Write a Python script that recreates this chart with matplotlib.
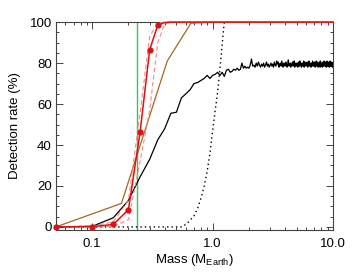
import numpy as np
import matplotlib
matplotlib.use('Agg')
import matplotlib.pyplot as plt
from matplotlib.ticker import FixedLocator, FixedFormatter, MultipleLocator

plt.rcParams['font.family'] = ['Liberation Sans', 'DejaVu Sans']
plt.rcParams['mathtext.default'] = 'regular'

# red model (solid with dots) and its two dashed bounds
red_mass = [0.05, 0.10, 0.15, 0.20, 0.25, 0.30, 0.35, 0.40, 0.45, 0.50, 10.0]
red_rate = [0.0, 0.2, 1.2, 8.5, 46.5, 86.5, 98.5, 99.8, 100, 100, 100]
red_upper = [0.0, 0.5, 2.5, 13, 56, 93, 99.6, 100, 100, 100, 100]
red_lower = [0.0, 0.0, 0.3, 3.5, 32, 57, 90, 99, 100, 100, 100]

# brown curve
brown_mass = [0.05, 0.175, 0.42, 0.66, 1.0, 10.0]
brown_rate = [0.0, 11.5, 81, 99.5, 100, 100]

# black dotted curve
dot_mass = [0.05, 0.56, 0.62, 0.70, 0.75, 0.80, 0.85, 0.90, 0.95, 0.99, 1.045, 1.10, 1.17, 1.225, 1.25, 10.0]
dot_rate = [0.0, 0.0, 2, 5.4, 9, 14, 20, 27, 36, 45, 56, 66, 82, 95, 100, 100]

# black solid curve, sampled every 0.05 from 0.05 to 10.0
black_mass = np.round(np.arange(1, 201) * 0.05, 2)
black_rate = [
    0.0, 0.3, 4.5, 13, 24.5, 33, 42.5, 48, 55.5, 56,
    63, 65, 67, 70, 70.5, 71.5, 72.5, 74, 72.5, 74,
    74.5, 75.5, 74, 75.5, 73.5, 76.5, 77, 75.5, 76, 77,
    76.5, 77.5, 76.5, 77, 80, 77.5, 78.5, 77.5, 78, 77.5,
    79, 82, 78.5, 79, 78, 80, 78.5, 80.5, 79, 78,
    79.5, 78.5, 80, 78, 79, 80.5, 78.5, 79.5, 78, 79,
    80, 78.5, 79.5, 78, 80.5, 79, 78.5, 81, 79.5, 80.5,
    78, 79.5, 80, 78.5, 81, 79, 78, 80, 79.5, 78.5,
    80.5, 79, 78, 79.5, 81.5, 78.5, 79, 80, 78, 79.5,
    79, 80.5, 78.5, 79, 81, 78, 80, 79.5, 78.5, 80,
    79.5, 78, 80.5, 79, 78.5, 81, 79, 80, 78, 79.5,
    80, 78.5, 79.5, 81, 78, 79, 80.5, 79, 78.5, 80,
    79, 80.5, 78, 79.5, 80, 81, 78.5, 79, 80, 79.5,
    78, 80, 79.5, 78.5, 81, 79, 80, 78.5, 79.5, 80.5,
    79, 78, 80, 79.5, 81, 78.5, 79, 80.5, 79, 78,
    80, 79.5, 78.5, 80.5, 79, 78, 81, 79.5, 80, 78.5,
    79.5, 80, 78, 79, 80.5, 79.5, 78.5, 81, 79, 80,
    78.5, 79.5, 80.5, 79, 78, 80, 79.5, 81, 78.5, 79,
    80, 78.5, 79.5, 80.5, 79, 78, 80, 79.5, 81, 78.5,
    79.5, 80, 78.5, 79, 80.5, 79.5, 78, 80, 79, 79.5,
]

green_mass = 0.237

xticks = [0.1, 1.0, 10.0]
xtick_labels = ['0.1', '1.0', '10.0']
yticks = [0, 20, 40, 60, 80, 100]

fig = plt.figure(figsize=(3.54, 2.75), dpi=100)
ax = fig.add_axes([0.158, 0.1636, 0.783, 0.756])

ax.axvline(green_mass, color='#2ecc55', lw=1.0)
ax.plot(black_mass, black_rate, color='black', lw=0.9)
ax.plot(dot_mass, dot_rate, color='black', lw=1.0, linestyle=(0, (1, 2.2)))
ax.plot(brown_mass, brown_rate, color='#a2681f', lw=0.9, zorder=3, clip_on=False)
ax.plot(red_mass, red_upper, color='#f08a8a', lw=0.8, linestyle=(0, (4, 2.5)),
        zorder=3, clip_on=False)
ax.plot(red_mass, red_lower, color='#f08a8a', lw=0.8, linestyle=(0, (4, 2.5)),
        zorder=3, clip_on=False)
ax.plot(red_mass, red_rate, color='#dd1111', lw=1.1, marker='o', ms=3.5,
        markevery=list(range(7)), zorder=4, clip_on=False)

ax.set_xscale('log')
ax.set_xlim(0.05, 10.0)
ax.set_ylim(-1.5, 100)

ax.xaxis.set_major_locator(FixedLocator(xticks))
ax.xaxis.set_major_formatter(FixedFormatter(xtick_labels))
ax.set_yticks(yticks)
ax.yaxis.set_minor_locator(MultipleLocator(5))

for s in ax.spines.values():
    s.set_color('#444444')
    s.set_linewidth(0.8)
ax.tick_params(which='both', direction='in', top=True, right=True, colors='#444444',
               labelcolor='black', labelsize=9.5, width=0.7)
ax.tick_params(which='major', length=5)
ax.tick_params(which='minor', length=2.5)
ax.tick_params(axis='x', which='major', pad=6)
ax.tick_params(axis='y', which='major', pad=3)

ax.set_xlabel('Mass (M$_{Earth}$)', fontsize=9.5, labelpad=1)
ax.set_ylabel('Detection rate (%)', fontsize=9.5, labelpad=6)

fig.savefig('out.png', dpi=100)
